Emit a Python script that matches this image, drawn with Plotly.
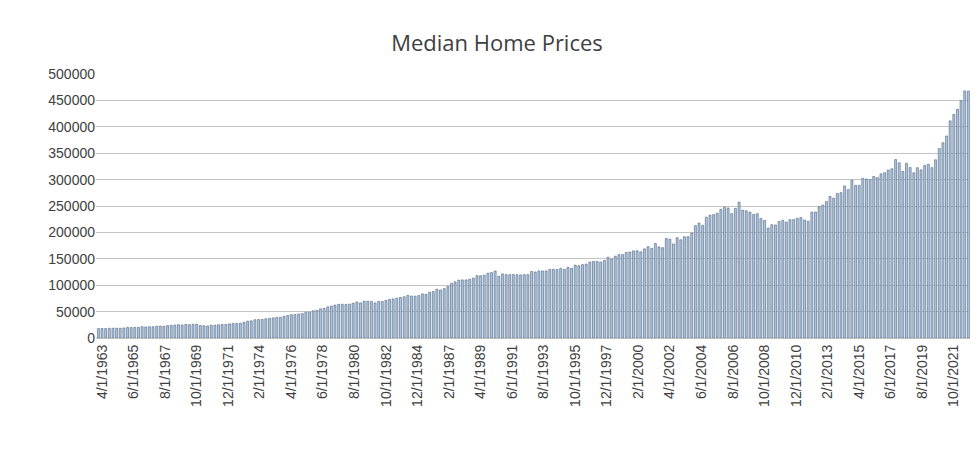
import pandas as pd
import plotly.graph_objects as go

# quarterly median home prices, 1963 Q1 .. 2022 Q4
prices = [
    17800, 18000, 17900, 18500, 18500, 18500, 18400, 19000,
    20200, 19800, 20200, 20200, 21500, 21000, 21400, 21200,
    22300, 22600, 22300, 23400, 24000, 24500, 25200, 24700,
    25900, 25200, 25900, 25900, 23900, 23200, 22800, 24300,
    24300, 25000, 25600, 25700, 26800, 27600, 27400, 28000,
    29800, 32000, 32500, 34600, 35000, 35100, 36400, 37300,
    38100, 39000, 39300, 41200, 42800, 44200, 44400, 45500,
    46300, 48900, 48800, 51600, 52300, 55300, 56100, 59000,
    60500, 62300, 63700, 64000, 63700, 64300, 65900, 68300,
    66400, 69700, 69600, 69200, 66400, 69400, 69200, 71400,
    73300, 74000, 75500, 76900, 78200, 80700, 79600, 79300,
    80300, 83600, 82800, 86800, 88000, 92500, 91000, 93600,
    97800, 103300, 106300, 109700, 110000, 110000, 111400, 113500,
    118000, 118000, 119000, 122800, 123900, 126800, 117000, 121500,
    120000, 119900, 120000, 120000, 119500, 120000, 120000, 126000,
    125000, 127000, 127000, 127000, 130000, 130000, 129700, 132000,
    130000, 133900, 132000, 138000, 137000, 139000, 140000, 144000,
    145000, 145000, 144000, 147000, 153000, 149500, 155000, 158000,
    158000, 162000, 163000, 165000, 165300, 163200, 168800, 172900,
    169800, 179000, 172500, 171100, 188700, 187200, 178100, 190100,
    186000, 191800, 191900, 198800, 212700, 217600, 213500, 228800,
    232500, 233700, 236400, 243600, 247700, 246300, 235600, 245400,
    257400, 242200, 241000, 238400, 233900, 235300, 226500, 222500,
    208400, 214500, 214100, 220800, 222900, 219500, 224100, 224300,
    226900, 228100, 223500, 221100, 238400, 238700, 248800, 251700,
    258400, 268100, 264800, 273600, 275200, 288000, 281000, 298900,
    289200, 289100, 302500, 301000, 299800, 306000, 303800, 310900,
    313100, 318200, 320500, 337900, 331800, 315600, 330900, 322800,
    313000, 322500, 318400, 327100, 329000, 322600, 337500, 358700,
    369800, 382600, 411200, 423600, 433100, 449300, 468000, 467700,
]
dates = pd.date_range("1963-01-01", periods=len(prices), freq="QS")

tick_dates = pd.date_range("1963-04-01", "2021-10-01", freq="26MS")
tick_text = [f"{d.month}/{d.day}/{d.year}" for d in tick_dates]

fig = go.Figure(go.Bar(
    x=dates, y=prices,
    marker=dict(color="#b4c6dc", line=dict(color="#4a6485", width=0.6)),
    width=1000 * 3600 * 24 * 50,
))
fig.update_layout(
    width=978, height=453,
    title=dict(text="Median Home Prices", x=0.5, y=0.94,
               font=dict(family="Open Sans", size=22, color="#404040")),
    plot_bgcolor="white", paper_bgcolor="white",
    margin=dict(l=88, r=14, t=66, b=123),
    showlegend=False,
    font=dict(family="Liberation Sans", size=14, color="#404040"),
)
fig.update_xaxes(tickvals=list(tick_dates), ticktext=tick_text, tickangle=-90,
                 range=["1962-11-01", "2022-12-31"], showgrid=False,
                 showline=True, linecolor="#bfbfbf", ticks="")
fig.update_yaxes(range=[0, 500000], dtick=50000, tickformat="d",
                 gridcolor="#c4c4c4", zeroline=False, ticks="")
fig.write_html("out.html")
